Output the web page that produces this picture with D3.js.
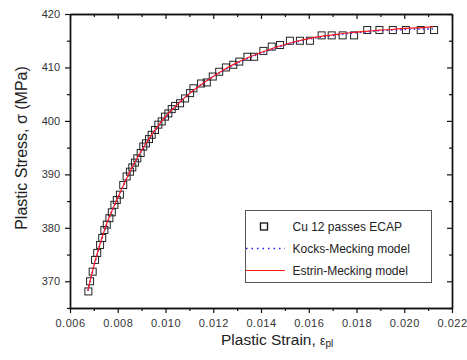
<!DOCTYPE html>
<html>
<head>
<meta charset="utf-8">
<script src="https://cdn.jsdelivr.net/npm/d3@7"></script>
<style>
  body { margin: 0; background: #fff; }
  svg { display: block; font-family: "Liberation Sans", Arial, sans-serif; }
  .tick text { fill: #333; }
</style>
</head>
<body>
<svg id="chart" width="467" height="360"></svg>
<script>
// measured data, Cu 12 passes ECAP (strain, stress MPa)
var expStrain = [0.00677, 0.00684, 0.00695, 0.00705, 0.00714, 0.00726, 0.00735, 0.00744, 0.00754, 0.00765,
  0.00775, 0.00786, 0.00796, 0.00809, 0.00823, 0.00837, 0.00851, 0.00861, 0.00872, 0.00882,
  0.00896, 0.00907, 0.00918, 0.00931, 0.00942, 0.00956, 0.00970, 0.00984, 0.00998, 0.01012,
  0.01026, 0.01040, 0.01061, 0.01082, 0.01103, 0.01117, 0.01149, 0.01173, 0.01198, 0.01225,
  0.01253, 0.01284, 0.01309, 0.01343, 0.01371, 0.01410, 0.01445, 0.01480, 0.01521, 0.01563,
  0.01605, 0.01654, 0.01696, 0.01742, 0.01790, 0.01845, 0.01896, 0.01952, 0.02007, 0.02069, 0.02125];
var expStress = [368.1, 370.0, 371.8, 374.0, 375.3, 376.8, 378.1, 379.6, 380.6, 381.8,
  382.9, 384.3, 385.2, 386.2, 388.0, 389.6, 390.5, 391.3, 392.2, 393.0,
  394.0, 395.2, 395.8, 396.6, 397.4, 398.3, 399.3, 399.9, 400.8, 401.4,
  402.2, 402.8, 403.3, 404.2, 405.2, 406.1, 407.0, 407.2, 408.3, 409.2,
  410.0, 410.5, 411.1, 412.0, 412.0, 413.1, 413.9, 414.2, 415.0, 415.0,
  415.0, 416.0, 416.0, 416.0, 416.0, 417.0, 417.0, 417.0, 417.0, 417.0, 417.0];

// model curves
var modelStrain = [0.00675, 0.0070, 0.0075, 0.0080, 0.0085, 0.0090, 0.0095, 0.0100, 0.0105, 0.0110,
  0.0115, 0.0120, 0.0125, 0.0130, 0.0135, 0.0140, 0.0145, 0.0150, 0.0155, 0.0160,
  0.0165, 0.0170, 0.0175, 0.0180, 0.0185, 0.0190, 0.0195, 0.0200, 0.0205, 0.0212];
var kocksStress = [368.2, 372.8, 380.2, 385.6, 390.3, 394.4, 397.8, 400.7, 403.1, 405.1,
  406.8, 408.3, 409.6, 410.8, 411.8, 412.7, 413.5, 414.2, 414.8, 415.3,
  415.7, 416.0, 416.3, 416.5, 416.7, 416.9, 417.0, 417.1, 417.2, 417.2];
var estrinStress = [368.3, 372.9, 380.3, 385.6, 390.4, 394.5, 397.9, 400.8, 403.1, 405.1,
  406.8, 408.3, 409.7, 410.9, 411.9, 412.8, 413.6, 414.3, 414.9, 415.4,
  415.8, 416.1, 416.4, 416.6, 416.8, 417.0, 417.1, 417.3, 417.4, 417.6];

var xTicks = [0.006, 0.008, 0.010, 0.012, 0.014, 0.016, 0.018, 0.020, 0.022];
var xMinor = [0.007, 0.009, 0.011, 0.013, 0.015, 0.017, 0.019, 0.021];
var yTicks = [370, 380, 390, 400, 410, 420];
var yMinor = [365, 375, 385, 395, 405, 415];

var legendLabels = ["Cu 12 passes ECAP", "Kocks-Mecking model", "Estrin-Mecking model"];

var svg = d3.select('#chart');
// plot box in px (careful: "top" is taken by window.top)
var plotL = 70, plotR = 452, plotT = 14, plotB = 308;

var x = d3.scaleLinear().domain([0.006, 0.022]).range([plotL, plotR]);
var y = d3.scaleLinear().domain([365, 420]).range([plotB, plotT]);

var fmt = d3.format('.3f');

// axes - bottom/left ticks point out, top/right point in
function styleAxis(g) {
  g.selectAll('.domain').attr('stroke', '#111').attr('stroke-width', 1.4);
  g.selectAll('.tick line').attr('stroke', '#111').attr('stroke-width', 1.2);
}

svg.append('g').attr('transform', 'translate(0,' + plotB + ')')
  .call(d3.axisBottom(x).tickValues(xMinor).tickSize(3).tickSizeOuter(0).tickFormat(''))
  .call(styleAxis);
svg.append('g').attr('transform', 'translate(0,' + plotB + ')')
  .call(d3.axisBottom(x).tickValues(xTicks).tickSize(5).tickSizeOuter(0).tickPadding(6).tickFormat(fmt))
  .call(styleAxis)
  .selectAll('text').attr('font-size', 11).attr('letter-spacing', 0.5)
  .attr('font-family', '"Liberation Sans", Arial, sans-serif');

svg.append('g').attr('transform', 'translate(0,' + plotT + ')')
  .call(d3.axisTop(x).tickValues(xMinor).tickSize(-3).tickSizeOuter(0).tickFormat(''))
  .call(styleAxis);
svg.append('g').attr('transform', 'translate(0,' + plotT + ')')
  .call(d3.axisTop(x).tickValues(xTicks).tickSize(-5).tickSizeOuter(0).tickFormat(''))
  .call(styleAxis);

svg.append('g').attr('transform', 'translate(' + plotL + ',0)')
  .call(d3.axisLeft(y).tickValues(yMinor).tickSize(3).tickSizeOuter(0).tickFormat(''))
  .call(styleAxis);
svg.append('g').attr('transform', 'translate(' + plotL + ',0)')
  .call(d3.axisLeft(y).tickValues(yTicks).tickSize(5).tickSizeOuter(0).tickPadding(5))
  .call(styleAxis)
  .selectAll('text').attr('font-size', 11)
  .attr('font-family', '"Liberation Sans", Arial, sans-serif');

svg.append('g').attr('transform', 'translate(' + plotR + ',0)')
  .call(d3.axisRight(y).tickValues(yMinor).tickSize(-3).tickSizeOuter(0).tickFormat(''))
  .call(styleAxis);
svg.append('g').attr('transform', 'translate(' + plotR + ',0)')
  .call(d3.axisRight(y).tickValues(yTicks).tickSize(-5).tickSizeOuter(0).tickFormat(''))
  .call(styleAxis);

// data squares
var pts = expStrain.map(function(d, i) { return [d, expStress[i]]; });
svg.append('g').selectAll('rect').data(pts).enter().append('rect')
  .attr('x', function(d) { return x(d[0]) - 3.5; })
  .attr('y', function(d) { return y(d[1]) - 3.5; })
  .attr('width', 7).attr('height', 7)
  .attr('fill', 'none').attr('stroke', '#222').attr('stroke-width', 1);

// model lines
var line = d3.line()
  .x(function(d) { return x(d[0]); })
  .y(function(d) { return y(d[1]); })
  .curve(d3.curveMonotoneX);

var kocks = modelStrain.map(function(d, i) { return [d, kocksStress[i]]; });
var estrin = modelStrain.map(function(d, i) { return [d, estrinStress[i]]; });

svg.append('path').datum(kocks).attr('d', line)
  .attr('fill', 'none').attr('stroke', '#1a1aff').attr('stroke-width', 1.6)
  .attr('stroke-dasharray', '1.5,3');
svg.append('path').datum(estrin).attr('d', line)
  .attr('fill', 'none').attr('stroke', '#ff1a1a').attr('stroke-width', 1.2);

// legend
var lg = svg.append('g');
lg.append('rect').attr('x', 245.5).attr('y', 210.5).attr('width', 186).attr('height', 72)
  .attr('fill', '#fff').attr('stroke', '#555').attr('stroke-width', 1);
var rowY = [226.5, 248.5, 270.5];
lg.append('rect').attr('x', 260.5).attr('y', rowY[0] - 3.5).attr('width', 7).attr('height', 7)
  .attr('fill', 'none').attr('stroke', '#111').attr('stroke-width', 1.3);
lg.append('line').attr('x1', 246).attr('x2', 285).attr('y1', rowY[1]).attr('y2', rowY[1])
  .attr('stroke', '#1a1aff').attr('stroke-width', 1.6).attr('stroke-dasharray', '1.5,4');
lg.append('line').attr('x1', 246).attr('x2', 285).attr('y1', rowY[2]).attr('y2', rowY[2])
  .attr('stroke', '#ff1a1a').attr('stroke-width', 1.2);
lg.selectAll('text.lab').data(legendLabels).enter().append('text')
  .attr('class', 'lab')
  .attr('x', 292.5)
  .attr('y', function(d, i) { return rowY[i] + 4.3; })
  .attr('font-size', 12).attr('fill', '#222')
  .text(function(d) { return d; });

// axis titles
var xt = svg.append('text').attr('x', 221).attr('y', 345)
  .attr('font-size', 15.5).attr('fill', '#222');
xt.append('tspan').text('Plastic Strain, ');
xt.append('tspan').attr('font-size', 12).text('ε');
xt.append('tspan').attr('font-size', 10).attr('dy', 2).text('pl');

svg.append('text')
  .attr('transform', 'translate(27,148) rotate(-90)')
  .attr('text-anchor', 'middle')
  .attr('font-size', 16).attr('fill', '#222')
  .text('Plastic Stress, σ (MPa)');
</script>
</body>
</html>
